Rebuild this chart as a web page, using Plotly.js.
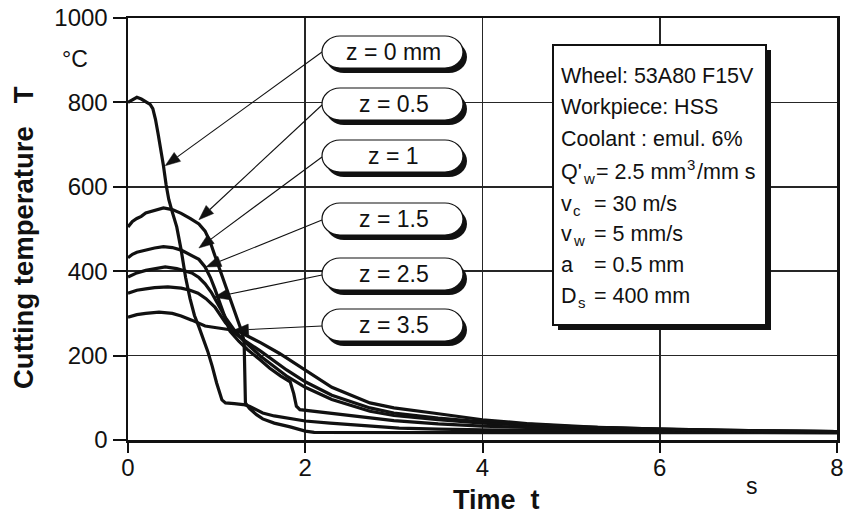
<!DOCTYPE html>
<html>
<head>
<meta charset="utf-8">
<script src="https://cdn.plot.ly/plotly-3.0.1.min.js"></script>
<style>html,body{margin:0;padding:0;background:#fff;}#chart{width:844px;height:529px;}</style>
</head>
<body>
<div id="chart"></div>
<script>
// ---- data (time t in s, cutting temperature T in °C) ----
const tZ0  = [0,0.05,0.1,0.15,0.2,0.25,0.28,0.31,0.34,0.37,0.4,0.43,0.46,0.5,0.55,0.6,0.65,0.7,0.75,0.8,0.85,0.9,0.95,1.0,1.06,1.1,1.2,1.3,1.37,1.45,1.52,1.65,1.83,2.0,2.28,2.7,3.06,3.5,4,5,6,7,8];
const TZ0  = [800,806,812,808,802,795,785,760,725,690,650,605,570,540,505,450,385,335,295,268,240,210,175,135,95,88,86,84,80,72,64,57,50,45,40,33,28,26,24,22,21,20,19];
const tZ05 = [0,0.05,0.1,0.15,0.2,0.3,0.4,0.5,0.6,0.7,0.8,0.87,0.93,0.98,1.04,1.09,1.15,1.21,1.27,1.31,1.325,1.37,1.45,1.52,1.65,1.83,2.0,2.1,2.5,3,4,5,6,7,8];
const TZ05 = [505,518,525,530,538,545,550,546,537,525,512,495,468,437,402,370,335,300,265,235,88,75,60,50,40,31,21,18,18,18,18,18,17,17,17];
const tZ1  = [0,0.05,0.1,0.2,0.3,0.4,0.5,0.6,0.7,0.8,0.87,0.93,0.98,1.04,1.09,1.15,1.25,1.35,1.49,1.6,1.72,1.83,1.87,1.9,1.94,2.1,2.28,2.5,2.73,3,3.5,4,5,6,7,8];
const TZ1  = [432,440,445,450,455,458,456,450,440,428,410,385,358,322,292,258,234,214,190,170,152,138,110,80,72,68,64,58,52,46,38,33,27,23,21,20];
const tZ15 = [0,0.05,0.1,0.2,0.3,0.42,0.55,0.65,0.72,0.8,0.87,0.94,1.01,1.1,1.2,1.3,1.5,1.8,2.0,2.3,2.73,3,3.5,4,5,6,7,8];
const TZ15 = [386,392,396,402,406,410,406,400,396,385,370,350,325,290,260,236,198,150,125,96,68,58,48,40,30,25,21,20];
const tZ25 = [0,0.05,0.1,0.2,0.3,0.45,0.6,0.7,0.79,0.88,0.98,1.1,1.2,1.3,1.5,1.79,2.0,2.3,2.73,3,3.5,4,5,6,7,8];
const TZ25 = [348,352,355,358,361,363,360,355,348,335,315,278,254,238,210,166,138,106,76,64,52,43,32,26,22,20];
const tZ35 = [0,0.05,0.1,0.2,0.35,0.5,0.6,0.72,0.8,0.87,1.0,1.1,1.19,1.26,1.5,1.71,2.0,2.3,2.73,3,3.44,4,4.5,5.3,6,7,8];
const TZ35 = [291,294,297,300,303,300,294,284,276,270,266,263,260,256,230,205,166,125,88,76,64,48,39,30,26,22,20];

const seriesLabels = ['z = 0 mm','z = 0.5','z = 1','z = 1.5','z = 2.5','z = 3.5'];
const xTickVals = [0,2,4,6,8];
const yTickVals = [0,200,400,600,800,1000];
// info box lines: pieces of [text, kind] (kind: n normal, sub, sup)
const infoLines = [
  [["Wheel: 53A80 F15V","n"]],
  [["Workpiece: HSS","n"]],
  [["Coolant : emul. 6%","n"]],
  [["Q'","n"],["w","sub"],["= 2.5 mm","n"],["3","sup"],["/mm s","n"]]
];
const infoSymbols = [[["v","n"],["c","sub"]],[["v","n"],["w","sub"]],[["a","n"]],[["D","n"],["s","sub"]]];
const infoValues = ["= 30 m/s","= 5 mm/s","= 0.5 mm","= 400 mm"];

// ---- geometry helpers (pixel -> paper) ----
const L0 = 128, R0 = 837, T0p = 18, B0 = 440;
const PW = R0 - L0, PH = B0 - T0p;
const XMAX = 8, YMAX = 1000;
const px = x => (x - L0) / PW;
const py = y => (B0 - y) / PH;
const dataToPixX = t => L0 + t / XMAX * PW;
const dataToPixY = v => B0 - v / YMAX * PH;
const FAM = 'Liberation Sans';
const FONT = 'Liberation Sans, Arial, sans-serif';

const cv = document.createElement('canvas').getContext('2d');
function textW(s, fs){ cv.font = fs + 'px "' + FAM + '"'; return cv.measureText(s).width; }

const xs = [tZ0,tZ05,tZ1,tZ15,tZ25,tZ35];
const ys = [TZ0,TZ05,TZ1,TZ15,TZ25,TZ35];
const traces = xs.map((x,i)=>({
  x: x, y: ys[i], type:'scatter', mode:'lines', name: seriesLabels[i],
  line:{color:'#111', width:3.2}, showlegend:false, hoverinfo:'skip'
}));

// label pills (pixel boxes) and arrow tips (data coords)
const pillTops = [36,88,140,203,258,309];
const pillH = 32, pillL = 322, pillR = 463;
const arrowTips = [[0.42,650],[0.80,522],[0.80,455],[0.88,410],[0.97,338],[1.19,260]];

function P(x,y){ return px(x).toFixed(5)+','+py(y).toFixed(5); }
function pillPath(L,Tp,R,B){
  const r = 18, cy=(Tp+B)/2, ry=(B-Tp)/2, k=0.5523;
  return 'M'+P(L+r,Tp)+' L'+P(R-r,Tp)+
    ' C'+P(R-r+k*r,Tp)+' '+P(R,cy-k*ry)+' '+P(R,cy)+
    ' C'+P(R,cy+k*ry)+' '+P(R-r+k*r,B)+' '+P(R-r,B)+
    ' L'+P(L+r,B)+
    ' C'+P(L+r-k*r,B)+' '+P(L,cy+k*ry)+' '+P(L,cy)+
    ' C'+P(L,cy-k*ry)+' '+P(L+r-k*r,Tp)+' '+P(L+r,Tp)+' Z';
}

const shapes = [];
const annotations = [];
// text placed by baseline (pixel): top of annotation box = baseline - ascent - borderpad
function textAt(s, x, baseline, fs, opts){
  annotations.push(Object.assign({xref:'paper', yref:'paper', x:px(x), y:py(baseline - 0.905*fs - 1), text:s, showarrow:false,
    font:{family:FONT, size:fs, color:'#111'}, xanchor:'left', yanchor:'top', borderpad:1}, opts||{}));
}
function richLine(pieces, x0, baseline, fs){
  let x = x0;
  pieces.forEach(([s,kind])=>{
    if(kind==='n'){ textAt(s, x-1, baseline, fs); x += textW(s,fs) + 1; }
    else {
      const sf = Math.round(fs*0.7);
      const dy = (kind==='sup') ? -fs*0.42 : fs*0.22;
      textAt(s, x-1, baseline+dy, sf);
      x += textW(s,sf) + 2;
    }
  });
}

pillTops.forEach((top,i)=>{
  const cy = top + pillH/2;
  // arrow (line + filled head) from pill to curve
  const tx = dataToPixX(arrowTips[i][0]), ty = dataToPixY(arrowTips[i][1]);
  const sx = pillL, sy = cy + (i===0?0:1);
  const d = Math.hypot(sx-tx, sy-ty), ux=(sx-tx)/d, uy=(sy-ty)/d;
  const hl = 15, hw = 5.5;
  const bx = tx+ux*hl, by = ty+uy*hl;
  shapes.push({type:'path', xref:'paper', yref:'paper', path:'M'+P(sx,sy)+' L'+P(bx,by), line:{color:'#111', width:1.1}, layer:'above'});
  shapes.push({type:'path', xref:'paper', yref:'paper',
    path:'M'+P(tx,ty)+' L'+P(bx-uy*hw, by+ux*hw)+' L'+P(bx+uy*hw, by-ux*hw)+' Z',
    fillcolor:'#111', line:{color:'#111', width:0.5}, layer:'above'});
  // pill with shadow
  shapes.push({type:'path', xref:'paper', yref:'paper', path:pillPath(pillL+4,top+5,pillR+4,top+pillH+5), fillcolor:'#111', line:{width:0}, layer:'above'});
  shapes.push({type:'path', xref:'paper', yref:'paper', path:pillPath(pillL,top,pillR,top+pillH), fillcolor:'#fff', line:{color:'#111', width:1.2}, layer:'above'});
  annotations.push({xref:'paper', yref:'paper', x:px((pillL+pillR)/2+1), y:py(cy), text:seriesLabels[i], showarrow:false,
    font:{family:FONT, size:23, color:'#111'}, xanchor:'center', yanchor:'middle'});
});

// info box
shapes.push({type:'rect', xref:'paper', yref:'paper', x0:px(558), x1:px(771), y0:py(50), y1:py(330), fillcolor:'#111', line:{width:0}, layer:'above'});
shapes.push({type:'rect', xref:'paper', yref:'paper', x0:px(553), x1:px(766), y0:py(45), y1:py(325), fillcolor:'#fff', line:{color:'#111', width:2}, layer:'above'});
const FS = 21.5;
const lineBase = [82,113,145,178,210,240,271,302];
infoLines.forEach((pcs,i)=> richLine(pcs, 560, lineBase[i], FS));
infoSymbols.forEach((pcs,i)=>{
  richLine(pcs, 560, lineBase[i+4], FS);
  textAt(infoValues[i], 592, lineBase[i+4], FS);
});

// axis titles and units
annotations.push({xref:'paper', yref:'paper', x:px(23), y:py(238), text:'<b>Cutting temperature   T</b>', textangle:-90, showarrow:false,
  font:{family:FONT, size:27.5, color:'#111'}, xanchor:'center', yanchor:'middle'});
annotations.push({xref:'paper', yref:'paper', x:px(496), y:py(500), text:'<b>Time  t</b>', showarrow:false,
  font:{family:FONT, size:27, color:'#111'}, xanchor:'center', yanchor:'middle'});
annotations.push({xref:'paper', yref:'paper', x:px(75), y:py(59), text:'°C', showarrow:false,
  font:{family:FONT, size:23, color:'#111'}, xanchor:'center', yanchor:'middle'});
annotations.push({xref:'paper', yref:'paper', x:px(752), y:py(486), text:'s', showarrow:false,
  font:{family:FONT, size:23, color:'#111'}, xanchor:'center', yanchor:'middle'});

const axisCommon = {
  showgrid:true, gridcolor:'#262626', gridwidth:1.7, zeroline:false,
  showline:true, linecolor:'#111', linewidth:2.5, mirror:true,
  ticks:'outside', tickcolor:'#111', tickwidth:2,
  tickfont:{family:FONT, size:24, color:'#111'}, fixedrange:true
};
const layout = {
  width:844, height:529,
  margin:{l:L0, r:844-R0, t:T0p, b:529-B0, pad:0},
  paper_bgcolor:'#fff', plot_bgcolor:'#fff',
  xaxis: Object.assign({}, axisCommon, {range:[0,XMAX], tickvals:xTickVals, ticklen:10, ticklabelstandoff:-5}),
  yaxis: Object.assign({}, axisCommon, {range:[0,YMAX], tickvals:yTickVals, ticklen:13}),
  shapes: shapes, annotations: annotations, showlegend:false
};
Plotly.newPlot('chart', traces, layout, {displayModeBar:false, staticPlot:true});
</script>
</body>
</html>
